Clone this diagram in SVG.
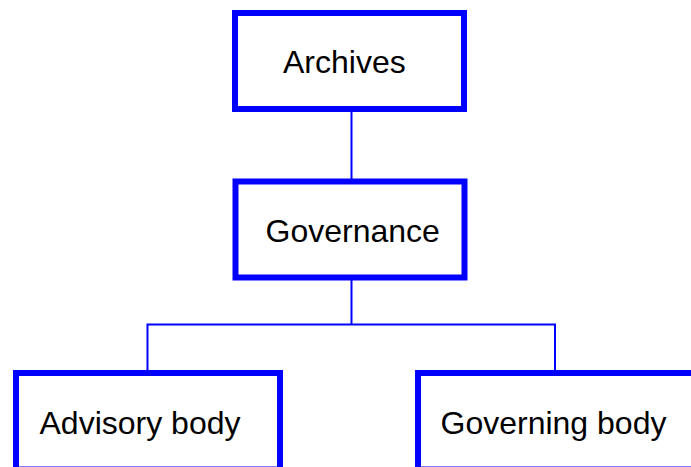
<svg xmlns="http://www.w3.org/2000/svg" width="691" height="467" viewBox="0 0 691 467">
<style>
.box{fill:#fff;stroke:#0000ff;stroke-width:6}
.lbl{font-family:"Liberation Sans",Arial,sans-serif;font-size:32px;fill:#000}
.conn{fill:none;stroke:#0000ff;stroke-width:2}
</style>
<rect width="691" height="467" fill="#fff"/>
<g id="connectors">
<line class="conn" x1="351.5" y1="111" x2="351.5" y2="181"/>
<polyline class="conn" points="351.5,280 351.5,324.5"/>
<polyline class="conn" points="147.5,371 147.5,324.5 555,324.5 555,371"/>
</g>
<g id="archives">
<rect class="box" x="235" y="13" width="229" height="96"/>
<text class="lbl" x="283" y="73">Archives</text>
</g>
<g id="governance">
<rect class="box" x="235.5" y="181.5" width="229" height="96"/>
<text class="lbl" x="265.5" y="242">Governance</text>
</g>
<g id="advisory">
<rect class="box" x="16" y="373" width="264" height="96.5"/>
<text class="lbl" x="39.5" y="434">Advisory body</text>
</g>
<g id="governing">
<rect class="box" x="418" y="373" width="290" height="96.5"/>
<text class="lbl" x="440.5" y="434">Governing body</text>
</g>
</svg>
